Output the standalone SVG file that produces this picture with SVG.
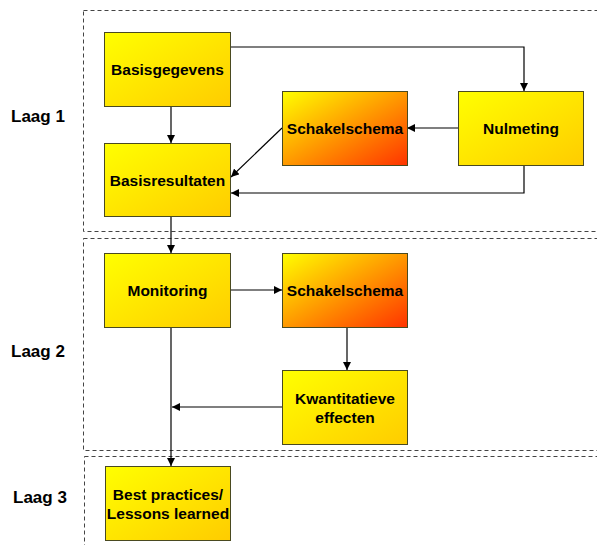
<svg xmlns="http://www.w3.org/2000/svg" width="597" height="545" viewBox="0 0 597 545">
<style>
.layer{fill:none;stroke:#444;stroke-width:1;stroke-dasharray:4,3}
.box{stroke:#4a4a20;stroke-width:1}
.y{fill:url(#gy)}
.o{fill:url(#go)}
.t{font-family:"Liberation Sans",Arial,sans-serif;font-weight:bold;font-size:15.5px;fill:#000;text-anchor:middle}
.lt{font-family:"Liberation Sans",Arial,sans-serif;font-weight:bold;font-size:17px;fill:#000}
.c{fill:none;stroke:#000;stroke-width:1.2}
</style>
<defs>
<linearGradient id="gy" x1="0" y1="0" x2="1" y2="1">
<stop offset="0" stop-color="#ffff00"/>
<stop offset="1" stop-color="#ffcc00"/>
</linearGradient>
<linearGradient id="go" x1="0" y1="0" x2="1" y2="1">
<stop offset="0" stop-color="#ffff00"/>
<stop offset="1" stop-color="#ff3300"/>
</linearGradient>
<marker id="ah" viewBox="0 0 10 10" refX="10" refY="5" markerWidth="8" markerHeight="8" markerUnits="userSpaceOnUse" orient="auto">
<path d="M0,0 L10,5 L0,10 z" fill="#000"/>
</marker>
</defs>
<g id="layers">
<rect class="layer" x="83.5" y="10.5" width="520" height="221"/>
<rect class="layer" x="83.5" y="238.5" width="520" height="212"/>
<rect class="layer" x="84.5" y="456.5" width="520" height="100"/>
</g>
<g id="labels">
<text class="lt" x="11" y="122">Laag 1</text>
<text class="lt" x="11" y="357">Laag 2</text>
<text class="lt" x="13" y="503">Laag 3</text>
</g>
<g id="connectors">
<polyline class="c" points="231,47 524,47 524,91" marker-end="url(#ah)"/>
<line class="c" x1="171" y1="106" x2="171" y2="143" marker-end="url(#ah)"/>
<line class="c" x1="282" y1="128" x2="231" y2="177" marker-end="url(#ah)"/>
<line class="c" x1="458" y1="128" x2="407" y2="128" marker-end="url(#ah)"/>
<polyline class="c" points="524,165 524,193 231,193" marker-end="url(#ah)"/>
<line class="c" x1="171" y1="216" x2="171" y2="253" marker-end="url(#ah)"/>
<line class="c" x1="231" y1="290" x2="282" y2="290" marker-end="url(#ah)"/>
<line class="c" x1="347" y1="327" x2="347" y2="370" marker-end="url(#ah)"/>
<line class="c" x1="282" y1="407" x2="172" y2="407" marker-end="url(#ah)"/>
<line class="c" x1="171" y1="327" x2="171" y2="466" marker-end="url(#ah)"/>
</g>
<g id="basisgegevens">
<rect class="box y" x="104.5" y="32.5" width="126" height="74"/>
<text class="t" x="167.5" y="75">Basisgegevens</text>
</g>
<g id="basisresultaten">
<rect class="box y" x="104.5" y="143.5" width="126" height="73"/>
<text class="t" x="167.5" y="186">Basisresultaten</text>
</g>
<g id="schakelschema1">
<rect class="box o" x="282.5" y="91.5" width="125" height="74"/>
<text class="t" x="345" y="134">Schakelschema</text>
</g>
<g id="nulmeting">
<rect class="box y" x="458.5" y="91.5" width="125" height="74"/>
<text class="t" x="521" y="134">Nulmeting</text>
</g>
<g id="monitoring">
<rect class="box y" x="104.5" y="253.5" width="126" height="74"/>
<text class="t" x="167.5" y="296">Monitoring</text>
</g>
<g id="schakelschema2">
<rect class="box o" x="282.5" y="253.5" width="125" height="74"/>
<text class="t" x="345" y="296">Schakelschema</text>
</g>
<g id="kwantitatieve">
<rect class="box y" x="282.5" y="370.5" width="125" height="74"/>
<text class="t" x="345" y="404">Kwantitatieve</text>
<text class="t" x="345" y="423">effecten</text>
</g>
<g id="bestpractices">
<rect class="box y" x="105.5" y="466.5" width="125" height="74"/>
<text class="t" x="168" y="500">Best practices/</text>
<text class="t" x="168" y="519">Lessons learned</text>
</g>
</svg>
